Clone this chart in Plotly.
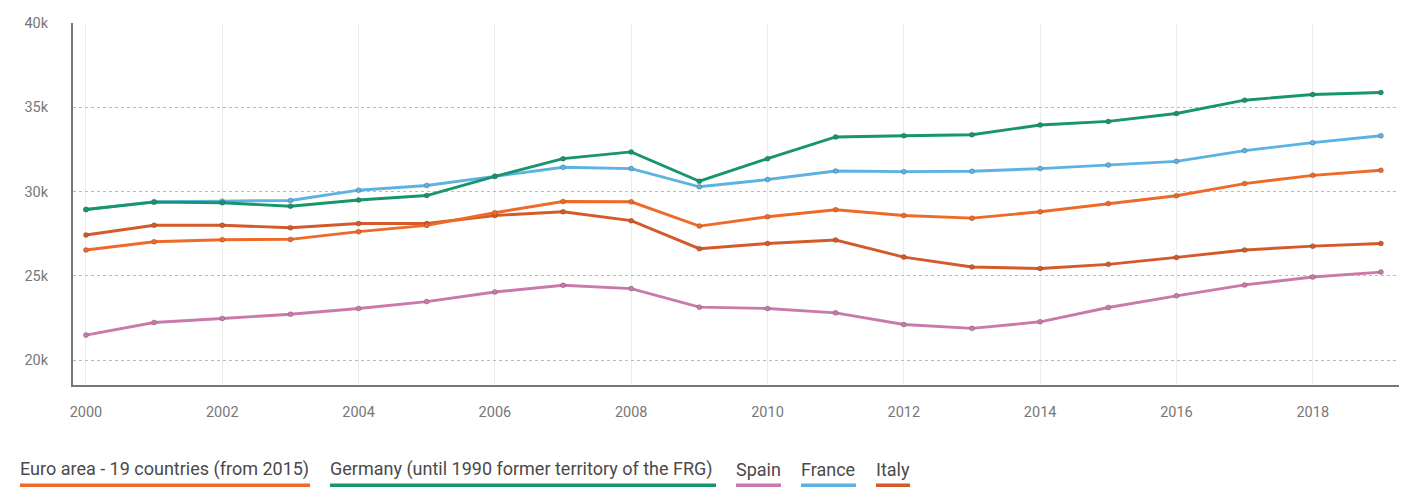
import plotly.graph_objects as go

years = list(range(2000, 2020))

euro_area = [26.53, 27.02, 27.14, 27.16, 27.62, 27.99, 28.74, 29.41, 29.39, 27.95,
             28.50, 28.92, 28.58, 28.42, 28.80, 29.29, 29.75, 30.47, 30.96, 31.26]
germany = [28.93, 29.37, 29.33, 29.13, 29.50, 29.76, 30.90, 31.95, 32.35, 30.61,
           31.95, 33.24, 33.31, 33.37, 33.95, 34.16, 34.63, 35.42, 35.76, 35.88]
spain = [21.48, 22.23, 22.47, 22.72, 23.06, 23.47, 24.04, 24.44, 24.24, 23.14,
         23.06, 22.80, 22.11, 21.88, 22.27, 23.12, 23.81, 24.46, 24.93, 25.22]
france = [28.93, 29.40, 29.43, 29.47, 30.08, 30.36, 30.90, 31.44, 31.36, 30.28,
          30.71, 31.22, 31.18, 31.20, 31.36, 31.58, 31.79, 32.43, 32.90, 33.31]
italy = [27.42, 28.00, 28.00, 27.85, 28.10, 28.10, 28.58, 28.80, 28.27, 26.61,
         26.92, 27.12, 26.11, 25.52, 25.43, 25.68, 26.09, 26.53, 26.76, 26.92]

series = [
    ("Euro area - 19 countries (from 2015)", euro_area, "#ef6a28"),
    ("Germany (until 1990 former territory of the FRG)", germany, "#17956b"),
    ("Spain", spain, "#c97aab"),
    ("France", france, "#5cb3e1"),
    ("Italy", italy, "#d45a2b"),
]

y_ticks = [20, 25, 30, 35, 40]
y_tick_labels = ["20k", "25k", "30k", "35k", "40k"]
x_ticks = list(range(2000, 2019, 2))

fig = go.Figure()
# draw order: Spain, Italy, Euro, France, Germany on top
for idx in [2, 4, 0, 3, 1]:
    name, vals, col = series[idx]
    fig.add_trace(go.Scatter(
        x=years, y=vals, name=name, mode="lines+markers",
        line=dict(color=col, width=2.9),
        marker=dict(color=col, size=5, line=dict(color="rgba(60,60,60,0.35)", width=0.8)),
        showlegend=False,
    ))

# page body has an 8px margin; build the figure in page pixels shifted by it
OFF = 8
W, H = 1407 - OFF, 487 - OFF
L, R, T, B = 73 - OFF, 7, 23 - OFF, 487 - 385
pw = W - L - R
ph = H - T - B

def px_x(p):
    return (p - OFF - L) / pw

def px_y(p):
    return 1 - (p - OFF - T) / ph

# custom legend: text with coloured bar underneath
legend_pos = [(20, 310), (330, 716), (736, 781), (801, 856), (876, 910)]
for (name, vals, col), (x0, x1) in zip(series, legend_pos):
    fig.add_annotation(
        x=px_x(x0 - 2), y=px_y(469), xref="paper", yref="paper",
        text=name, showarrow=False, xanchor="left", yanchor="middle",
        font=dict(family="Roboto", size=18, color="#4a4a4a"),
    )
    fig.add_shape(
        type="rect", xref="paper", yref="paper",
        x0=px_x(x0), x1=px_x(x1), y0=px_y(487), y1=px_y(483.5),
        fillcolor=col, line=dict(width=0),
    )

fig.update_layout(
    width=W, height=H,
    margin=dict(l=L, r=R, t=T, b=B, pad=0),
    plot_bgcolor="white", paper_bgcolor="white",
    font=dict(family="Roboto", size=14, color="#777777"),
    xaxis=dict(
        range=[1999.81, 2019.28], tickvals=x_ticks, ticktext=[str(v) for v in x_ticks],
        showgrid=True, gridcolor="#ececec", gridwidth=1,
        showline=True, linecolor="#777777", linewidth=2,
        ticks="", zeroline=False, ticklabelstandoff=13,
        tickfont=dict(family="Roboto", size=14.5, color="#777777"),
    ),
    yaxis=dict(
        range=[18.52, 40.0], tickvals=y_ticks, ticktext=y_tick_labels,
        showgrid=True, gridcolor="#bbbbbb", gridwidth=1, griddash="dot",
        showline=True, linecolor="#777777", linewidth=2,
        ticks="", zeroline=False, ticklabelstandoff=20,
        tickfont=dict(family="Roboto", size=14.5, color="#777777"),
    ),
)

fig.write_html("out.html")
